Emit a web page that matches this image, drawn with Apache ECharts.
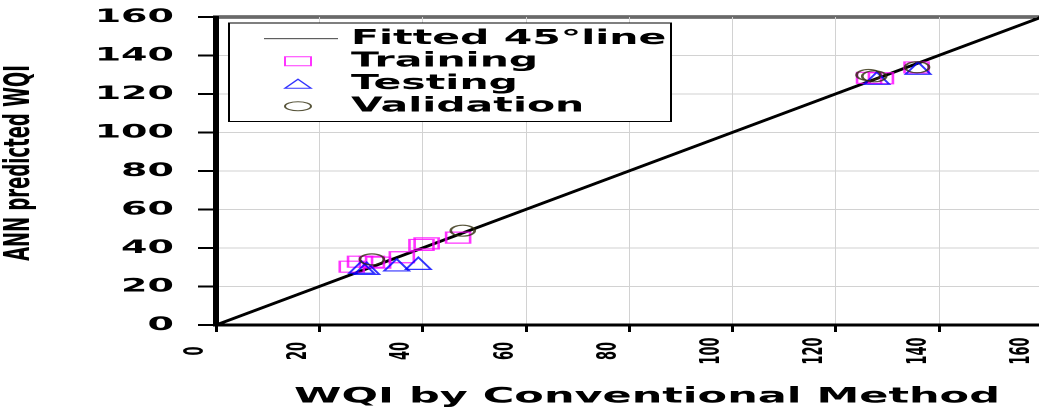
<!DOCTYPE html>
<html>
<head>
<meta charset="utf-8">
<script src="https://cdn.jsdelivr.net/npm/echarts@6.0.0/dist/echarts.min.js"></script>
<style>
  html, body { margin: 0; padding: 0; background: #fff; overflow: hidden; }
  /* the figure is drawn at double height and squashed, like the source image */
  #chart { width: 1039px; height: 828px; transform: scale(1, 0.5); transform-origin: 0 0; }
</style>
</head>
<body>
<div id="chart"></div>
<script>
// axis ticks
const xTicks = [0, 20, 40, 60, 80, 100, 120, 140, 160];
const yTicks = [0, 20, 40, 60, 80, 100, 120, 140, 160];

// 45 degree reference line
const fittedLine = [[0, 0], [160, 160]];

// [WQI conventional, WQI ANN]
const training = [
  [26.3, 30.3], [27.9, 32.9], [30.2, 32.9], [31.4, 32.4], [36.0, 35.2],
  [39.8, 41.6], [40.8, 42.4], [46.9, 45.4],
  [126.5, 128.4], [128.8, 128.2], [135.7, 133.8]
];
const testing = [
  [28.2, 30.0], [29.2, 29.4], [35.0, 31.2], [39.2, 32.0],
  [128.0, 128.2], [136.0, 133.4]
];
const validation = [
  [30.2, 34.1], [47.8, 49.0],
  [126.4, 129.9], [127.5, 129.2], [135.8, 133.9]
];

const FONT = "'DejaVu Sans'";
const chart = echarts.init(document.getElementById("chart"), null, { renderer: "canvas", devicePixelRatio: 1 });

const hollow = (color) => ({ color: "rgba(0,0,0,0)", borderColor: color, borderWidth: 2.5 });

chart.setOption({
  animation: false,
  backgroundColor: "#fff",
  grid: {
    left: 216, right: -3, top: 34, bottom: 178,
    outerBoundsMode: "none", containLabel: false,
    show: true, borderColor: "#000", borderWidth: 6, backgroundColor: "transparent"
  },
  legend: {
    orient: "vertical",
    left: 229, top: 46,
    itemWidth: 74, itemHeight: 20, itemGap: 0,
    padding: [9, 4, 8, 34],
    borderColor: "#000", borderWidth: 2, backgroundColor: "#fff",
    textStyle: {
      fontFamily: FONT, fontWeight: "bold", fontSize: 41, color: "#000",
      lineHeight: 45, width: 316, padding: [0, 0, 0, 8]
    },
    data: [
      { name: "Fitted 45°line", icon: "path://M0,0M74,20M0,10L74,10", itemStyle: { borderColor: "#000", borderWidth: 1.5 } },
      { name: "Training", icon: "path://M0,0M74,20M21,1L47,1L47,19L21,19Z", itemStyle: { borderWidth: 2 } },
      { name: "Testing", icon: "path://M0,0M74,20M34,1L47,19L21,19Z", itemStyle: { borderWidth: 2 } },
      { name: "Validation", icon: "path://M0,0M74,20M21,10A13,9 0 1 1 47,10A13,9 0 1 1 21,10Z", itemStyle: { borderWidth: 2 } }
    ]
  },
  xAxis: {
    type: "value", min: xTicks[0], max: xTicks[xTicks.length - 1], interval: 20,
    name: "WQI by Conventional Method",
    nameLocation: "middle", nameGap: 122,
    nameTextStyle: { fontFamily: FONT, fontWeight: "bold", fontSize: 43, color: "#000", padding: [0, 0, 0, 36] },
    axisLine: { onZero: false, lineStyle: { color: "#000", width: 6 } },
    axisTick: { show: true, length: 14, lineStyle: { color: "#000", width: 3 } },
    axisLabel: {
      rotate: 90, align: "center", verticalAlign: "bottom", margin: 52,
      fontFamily: FONT, fontWeight: "bold", fontSize: 26, lineHeight: 40, color: "#000",
      formatter: (v) => xTicks.includes(v) ? String(v) : ""
    },
    splitLine: { show: true, lineStyle: { color: "#d2d2d2", width: 1 } }
  },
  yAxis: {
    type: "value", min: yTicks[0], max: yTicks[yTicks.length - 1], interval: 20,
    name: "ANN predicted WQI",
    nameLocation: "middle", nameGap: 178, nameRotate: 90,
    nameTextStyle: { fontFamily: FONT, fontWeight: "bold", fontSize: 36, color: "#000", padding: [0, 0, 0, 32] },
    axisLine: { onZero: false, lineStyle: { color: "#000", width: 5 } },
    axisTick: { show: true, length: 18, lineStyle: { color: "#000", width: 4 } },
    axisLabel: {
      margin: 42, fontFamily: FONT, fontWeight: "bold", fontSize: 38, color: "#000",
      formatter: (v) => yTicks.includes(v) ? String(v) : ""
    },
    splitLine: { show: true, lineStyle: { color: "#d2d2d2", width: 2 } }
  },
  series: [
    {
      name: "Fitted 45°line", type: "line", data: fittedLine,
      symbol: "none", lineStyle: { color: "#000", width: 5 }, itemStyle: { color: "#000" }, z: 1
    },
    {
      name: "Training", type: "scatter", data: training,
      symbol: "rect", symbolSize: [24, 22], itemStyle: hollow("#ff00ff"), z: 2
    },
    {
      name: "Testing", type: "scatter", data: testing,
      symbol: "triangle", symbolSize: [25, 24], itemStyle: hollow("#0000ff"), z: 3
    },
    {
      name: "Validation", type: "scatter", data: validation,
      symbol: "circle", symbolSize: [24, 22], itemStyle: hollow("#2e2a0a"), z: 4
    }
  ]
});
</script>
</body>
</html>
